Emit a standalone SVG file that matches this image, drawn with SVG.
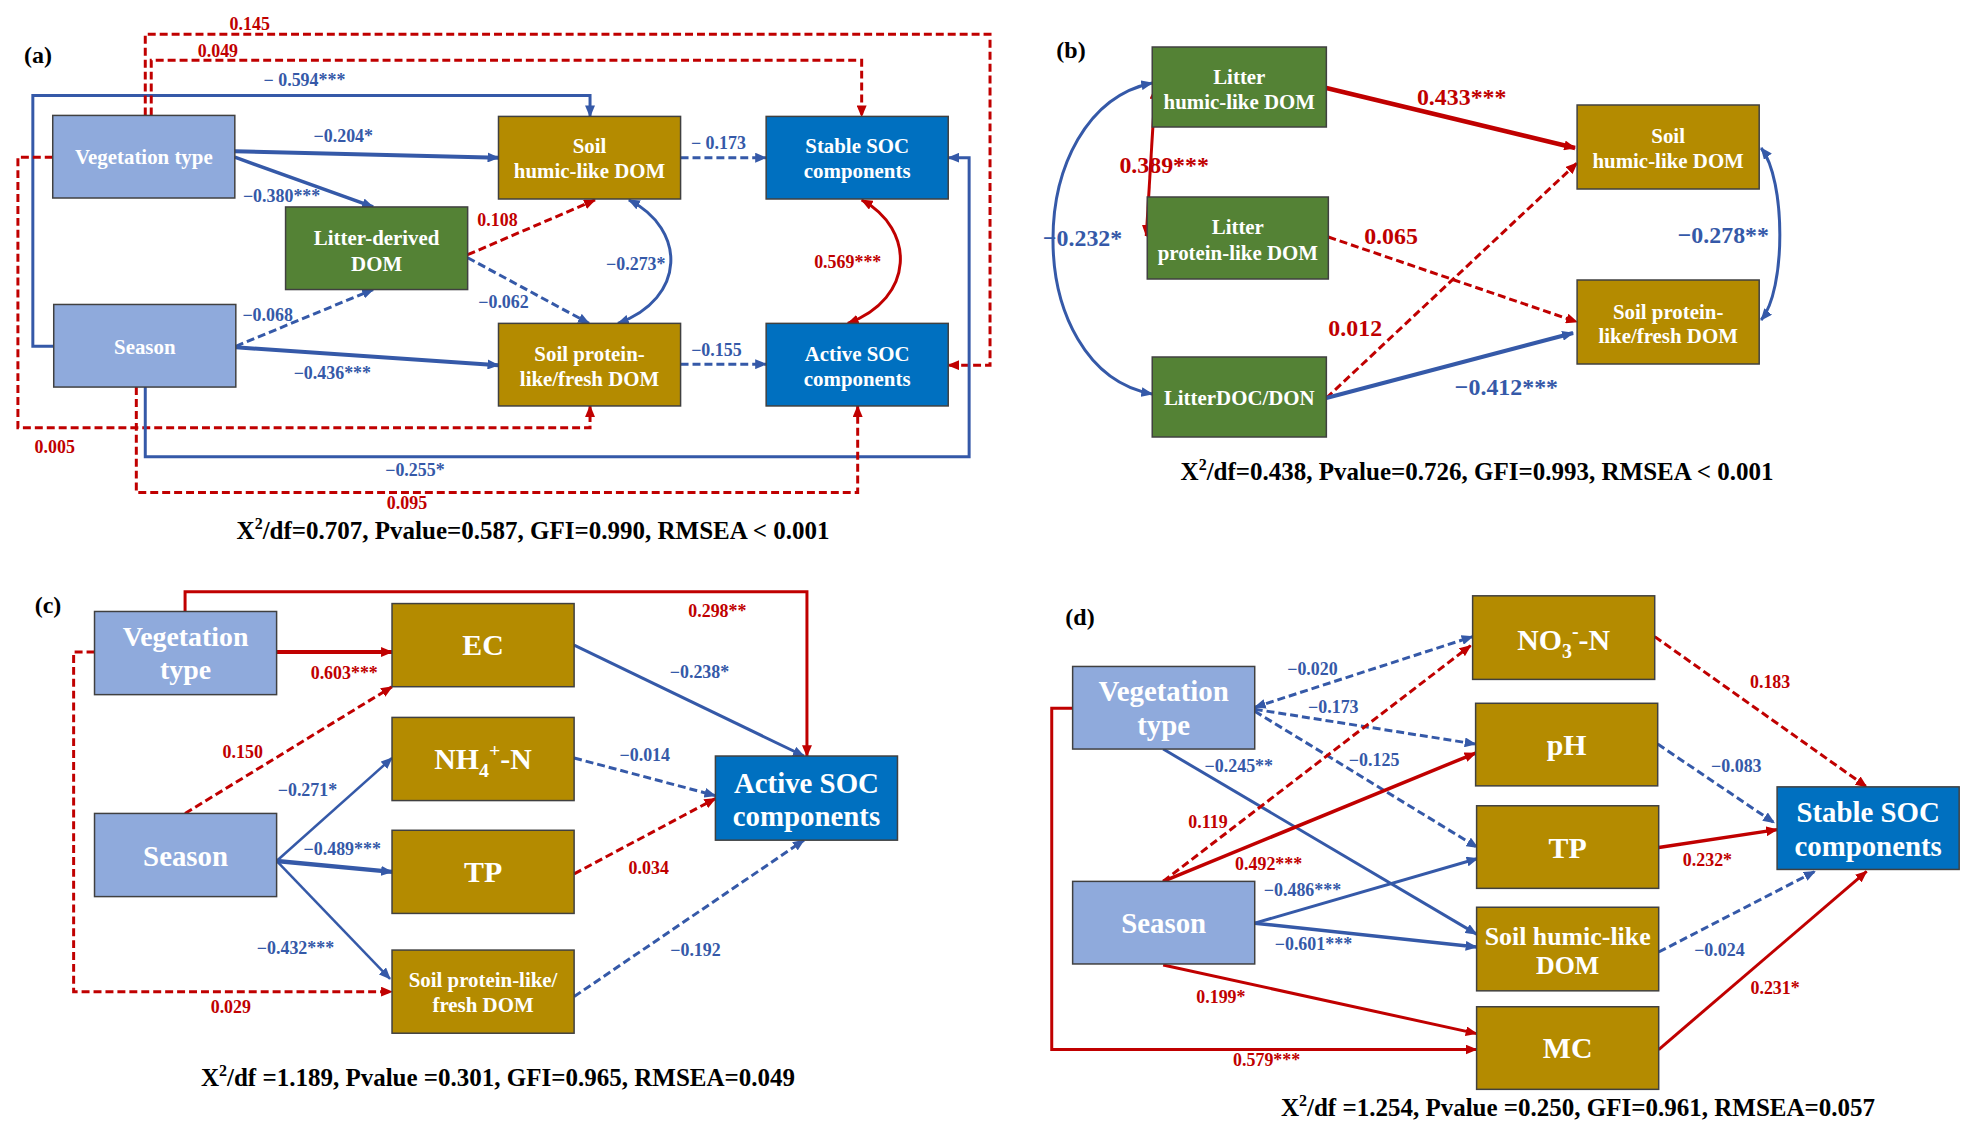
<svg xmlns="http://www.w3.org/2000/svg" width="1975" height="1138" viewBox="0 0 1975 1138">
<style>
.bx{stroke:#404040;stroke-width:1.5}
.lb{fill:#8FAADC}.gd{fill:#B48B00}.gr{fill:#548235}.db{fill:#0070C0}
.nt{font-family:"Liberation Serif","Times New Roman",serif;font-weight:bold;fill:#fff;text-anchor:middle}
.b{stroke:#3559A8;fill:none;stroke-width:3;marker-end:url(#ab)}
.r{stroke:#C00000;fill:none;stroke-width:3;marker-end:url(#ar)}
.d{stroke-dasharray:8 4}
.lab{font-family:"Liberation Serif","Times New Roman",serif;font-weight:bold;text-anchor:middle;font-size:18px}
.lB{fill:#3559A8}.lR{fill:#C00000}
.cap{font-family:"Liberation Serif","Times New Roman",serif;font-weight:bold;text-anchor:middle;font-size:25px;fill:#000}
.pl{font-family:"Liberation Serif","Times New Roman",serif;font-weight:bold;font-size:24px;fill:#000;text-anchor:middle}
</style>
<defs>
<marker id="ab" viewBox="0 0 12 10" refX="11" refY="5" markerWidth="12" markerHeight="10" markerUnits="userSpaceOnUse" orient="auto-start-reverse"><path d="M0,0 L12,5 L0,10 Z" fill="#3559A8"/></marker>
<marker id="ar" viewBox="0 0 12 10" refX="11" refY="5" markerWidth="12" markerHeight="10" markerUnits="userSpaceOnUse" orient="auto-start-reverse"><path d="M0,0 L12,5 L0,10 Z" fill="#C00000"/></marker>
</defs>
<rect width="1975" height="1138" fill="#fff"/>

<!-- panel labels -->
<text class="pl" x="38" y="63">(a)</text>
<text class="pl" x="1071" y="58">(b)</text>
<text class="pl" x="48" y="613">(c)</text>
<text class="pl" x="1080" y="625">(d)</text>

<!-- ============ connectors ============ -->
<g id="connectors">
<g id="conn-a" transform="matrix(0.995,0,0,0.995,0,0)">
<g><path class="b" style="stroke-width:4" d="M236,152 L501,158.5"/><text class="lab lB" x="345" y="143">−0.204*</text></g>
<g><path class="b" style="stroke-width:3.5" d="M236,158 L375,208"/><text class="lab lB" x="283" y="203">−0.380***</text></g>
<g><path class="b d" d="M237,348 L375,291"/><text class="lab lB" x="269" y="323">−0.068</text></g>
<g><path class="b" style="stroke-width:4" d="M237,349 L501,367"/><text class="lab lB" x="334" y="381">−0.436***</text></g>
<g><path class="r d" d="M470,256 L598,201"/><text class="lab lR" x="500" y="227">0.108</text></g>
<g><path class="b d" d="M470,259 L592,325"/><text class="lab lB" x="506" y="310">−0.062</text></g>
<g><path class="b" style="marker-start:url(#ab)" d="M632,201 C690,230 690,300 621,325"/><text class="lab lB" x="639" y="271">−0.273*</text></g>
<g><path class="b d" d="M684,158.5 L770,158.5"/><text class="lab lB" x="722" y="150">− 0.173</text></g>
<g><path class="b d" d="M684,366 L770,366"/><text class="lab lB" x="720" y="358">−0.155</text></g>
<g><path class="r" style="marker-start:url(#ar)" d="M866,201 C920,230 920,300 852,325"/><text class="lab lR" x="852" y="269">0.569***</text></g>
<g><path class="b" d="M54,348 L33,348 L33,96 L593,96 L593,117"/><text class="lab lB" x="306" y="86">− 0.594***</text></g>
<g><path class="r d" d="M146,116 L146,34.5 L995,34.5 L995,367 L953,367"/><text class="lab lR" x="251" y="30">0.145</text></g>
<g><path class="r d" d="M152,116 L152,60.5 L866,60.5 L866,117"/><text class="lab lR" x="219" y="57">0.049</text></g>
<g><path class="r d" d="M53,158 L18,158 L18,430 L593,430 L593,408"/><text class="lab lR" x="55" y="455">0.005</text></g>
<g><path class="b" d="M146,389 L146,459 L974,459 L974,158.5 L953,158.5"/><text class="lab lB" x="417" y="478">−0.255*</text></g>
<g><path class="r d" d="M137,389 L137,495 L862,495 L862,408"/><text class="lab lR" x="409" y="512">0.095</text></g>
</g>

<g id="conn-b" transform="matrix(0.995,0,0,1,5,0)">
<g><path class="r" style="stroke-width:4.5" d="M1328,88 L1578,148"/><text class="lab lR" style="font-size:24px" x="1464" y="105">0.433***</text></g>
<g><path class="r d" d="M1330,237 L1580,322"/><text class="lab lR" style="font-size:24px" x="1393" y="244">0.065</text></g>
<g><path class="r d" d="M1328,398 L1580,163"/><text class="lab lR" style="font-size:24px" x="1357" y="336">0.012</text></g>
<g><path class="b" style="stroke-width:4" d="M1328,398 L1576,333"/><text class="lab lB" style="font-size:24px" x="1509" y="395">−0.412***</text></g>
<g><path class="r" style="marker-start:url(#ar)" d="M1156,88 L1147,236"/><text class="lab lR" style="font-size:24px" x="1165" y="173">0.389***</text></g>
<g><path class="b" style="marker-start:url(#ab)" d="M1153,83 C1020,110 1020,370 1153,394"/><text class="lab lB" style="font-size:24px" x="1083" y="246">−0.232*</text></g>
<g><path class="b" style="marker-start:url(#ab)" d="M1765,148 C1790,180 1790,290 1765,320"/><text class="lab lB" style="font-size:24px" x="1727" y="243">−0.278**</text></g>
</g>

<g id="conn-c" transform="matrix(0.995,0,0,0.99,0,5.6)">
<g><path class="r" style="stroke-width:4" d="M278,653 L394,653"/><text class="lab lR" x="346" y="680">0.603***</text></g>
<g><path class="r" d="M186,612 L186,592 L811,592 L811,758"/><text class="lab lR" x="721" y="618">0.298**</text></g>
<g><path class="r d" d="M186,816 L394,688"/><text class="lab lR" x="244" y="760">0.150</text></g>
<g><path class="b" style="stroke-width:2.5" d="M278,864 L394,760"/><text class="lab lB" x="309" y="798">−0.271*</text></g>
<g><path class="b" style="stroke-width:4.5" d="M278,864 L394,875"/><text class="lab lB" x="344" y="858">−0.489***</text></g>
<g><path class="b" style="stroke-width:2.5" d="M278,864 L392,983"/><text class="lab lB" x="297" y="958">−0.432***</text></g>
<g><path class="r d" d="M95,653 L74,653 L74,996 L394,996"/><text class="lab lR" x="232" y="1018">0.029</text></g>
<g><path class="b" d="M577,646 L808,758"/><text class="lab lB" x="703" y="679">−0.238*</text></g>
<g><path class="b d" d="M577,760 L719,798"/><text class="lab lB" x="648" y="763">−0.014</text></g>
<g><path class="r d" d="M577,877 L719,801"/><text class="lab lR" x="652" y="877">0.034</text></g>
<g><path class="b d" d="M577,1001 L808,843"/><text class="lab lB" x="699" y="960">−0.192</text></g>
</g>

<g id="conn-d" transform="matrix(0.995,0,0,0.995,5,2.8)">
<g><path class="b d" style="marker-start:url(#ab)" d="M1256,708 L1475,637"/><text class="lab lB" x="1314" y="676">−0.020</text></g>
<g><path class="b d" d="M1256,710 L1478,745"/><text class="lab lB" x="1335" y="714">−0.173</text></g>
<g><path class="b d" d="M1256,712 L1480,849"/><text class="lab lB" x="1376" y="767">−0.125</text></g>
<g><path class="b" d="M1164,750 L1479,936"/><text class="lab lB" x="1240" y="773">−0.245**</text></g>
<g><path class="r d" d="M1164,883 L1473,646"/><text class="lab lR" x="1209" y="829">0.119</text></g>
<g><path class="r" style="stroke-width:3.5" d="M1164,883 L1478,754"/><text class="lab lR" x="1270" y="872">0.492***</text></g>
<g><path class="b" d="M1256,925 L1480,860"/><text class="lab lB" x="1304" y="898">−0.486***</text></g>
<g><path class="b" style="stroke-width:3.5" d="M1256,925 L1479,949"/><text class="lab lB" x="1315" y="952">−0.601***</text></g>
<g><path class="r" d="M1164,967 L1479,1036"/><text class="lab lR" x="1222" y="1005">0.199*</text></g>
<g><path class="r" d="M1073,709 L1052,709 L1052,1052 L1479,1052"/><text class="lab lR" x="1268" y="1069">0.579***</text></g>
<g><path class="r d" d="M1658,637 L1871,788"/><text class="lab lR" x="1774" y="689">0.183</text></g>
<g><path class="b d" d="M1661,745 L1778,824"/><text class="lab lB" x="1740" y="773">−0.083</text></g>
<g><path class="r" style="stroke-width:3.5" d="M1662,849 L1781,831"/><text class="lab lR" x="1711" y="868">0.232*</text></g>
<g><path class="b d" d="M1662,954 L1819,873"/><text class="lab lB" x="1723" y="958">−0.024</text></g>
<g><path class="r" d="M1662,1052 L1871,873"/><text class="lab lR" x="1779" y="996">0.231*</text></g>
</g>
</g>

<!-- ============ nodes ============ -->
<g id="nodes-a" transform="matrix(0.995,0,0,0.995,0,0)">
<g id="a-veg"><rect class="bx lb" x="53" y="116" width="183" height="83"/><text class="nt" style="font-size:21px" x="144.5" y="165">Vegetation type</text></g>
<g id="a-season"><rect class="bx lb" x="54" y="306" width="183" height="83"/><text class="nt" style="font-size:21px" x="145.5" y="356">Season</text></g>
<g id="a-litter"><rect class="bx gr" x="287" y="208" width="183" height="83"/><text class="nt" style="font-size:21px" x="378.5" y="246">Litter-derived</text><text class="nt" style="font-size:21px" x="378.5" y="272">DOM</text></g>
<g id="a-soilhumic"><rect class="bx gd" x="501" y="117" width="183" height="83"/><text class="nt" style="font-size:21px" x="592.5" y="154">Soil</text><text class="nt" style="font-size:21px" x="592.5" y="179">humic-like DOM</text></g>
<g id="a-soilprotein"><rect class="bx gd" x="501" y="325" width="183" height="83"/><text class="nt" style="font-size:21px" x="592.5" y="363">Soil protein-</text><text class="nt" style="font-size:21px" x="592.5" y="388">like/fresh DOM</text></g>
<g id="a-stable"><rect class="bx db" x="770" y="117" width="183" height="83"/><text class="nt" style="font-size:21px" x="861.5" y="154">Stable SOC</text><text class="nt" style="font-size:21px" x="861.5" y="179">components</text></g>
<g id="a-active"><rect class="bx db" x="770" y="325" width="183" height="83"/><text class="nt" style="font-size:21px" x="861.5" y="363">Active SOC</text><text class="nt" style="font-size:21px" x="861.5" y="388">components</text></g>
</g>

<g id="nodes-b" transform="matrix(0.995,0,0,1,5,0)">
<g id="b-litterhumic"><rect class="bx gr" x="1153" y="47" width="175" height="80"/><text class="nt" style="font-size:21px" x="1240.5" y="84">Litter</text><text class="nt" style="font-size:21px" x="1240.5" y="109">humic-like DOM</text></g>
<g id="b-litterprotein"><rect class="bx gr" x="1148" y="197" width="182" height="82"/><text class="nt" style="font-size:21px" x="1239" y="234">Litter</text><text class="nt" style="font-size:21px" x="1239" y="260">protein-like DOM</text></g>
<g id="b-litterdocdon"><rect class="bx gr" x="1153" y="357" width="175" height="80"/><text class="nt" style="font-size:21px" x="1240.5" y="405">LitterDOC/DON</text></g>
<g id="b-soilhumic"><rect class="bx gd" x="1580" y="105" width="183" height="84"/><text class="nt" style="font-size:21px" x="1671.5" y="143">Soil</text><text class="nt" style="font-size:21px" x="1671.5" y="168">humic-like DOM</text></g>
<g id="b-soilprotein"><rect class="bx gd" x="1580" y="280" width="183" height="84"/><text class="nt" style="font-size:21px" x="1671.5" y="319">Soil protein-</text><text class="nt" style="font-size:21px" x="1671.5" y="343">like/fresh DOM</text></g>
</g>

<g id="nodes-c" transform="matrix(0.995,0,0,0.99,0,5.6)">
<g id="c-veg"><rect class="bx lb" x="95" y="612" width="183" height="84"/><text class="nt" style="font-size:28px" x="186.5" y="647">Vegetation</text><text class="nt" style="font-size:28px" x="186.5" y="680">type</text></g>
<g id="c-ec"><rect class="bx gd" x="394" y="604" width="183" height="84"/><text class="nt" style="font-size:30px" x="485.5" y="656">EC</text></g>
<g id="c-nh4"><rect class="bx gd" x="394" y="719" width="183" height="84"/><text class="nt" style="font-size:30px" x="485.5" y="771">NH<tspan font-size="20" dy="8">4</tspan><tspan font-size="20" dy="-20">+</tspan><tspan dy="12">-N</tspan></text></g>
<g id="c-tp"><rect class="bx gd" x="394" y="833" width="183" height="84"/><text class="nt" style="font-size:30px" x="485.5" y="885">TP</text></g>
<g id="c-soilprotein"><rect class="bx gd" x="394" y="954" width="183" height="84"/><text class="nt" style="font-size:21px" x="485.5" y="991">Soil protein-like/</text><text class="nt" style="font-size:21px" x="485.5" y="1017">fresh DOM</text></g>
<g id="c-season"><rect class="bx lb" x="95" y="816" width="183" height="84"/><text class="nt" style="font-size:29px" x="186.5" y="869">Season</text></g>
<g id="c-active"><rect class="bx db" x="719" y="758" width="183" height="85"/><text class="nt" style="font-size:29px" x="810.5" y="795">Active SOC</text><text class="nt" style="font-size:29px" x="810.5" y="829">components</text></g>
</g>

<g id="nodes-d" transform="matrix(0.995,0,0,0.995,5,2.8)">
<g id="d-veg"><rect class="bx lb" x="1073" y="667" width="183" height="83"/><text class="nt" style="font-size:29px" x="1164.5" y="702">Vegetation</text><text class="nt" style="font-size:29px" x="1164.5" y="736">type</text></g>
<g id="d-season"><rect class="bx lb" x="1073" y="883" width="183" height="83"/><text class="nt" style="font-size:29px" x="1164.5" y="935">Season</text></g>
<g id="d-no3"><rect class="bx gd" x="1475" y="596" width="183" height="84"/><text class="nt" style="font-size:30px" x="1566.5" y="650">NO<tspan font-size="20" dy="8">3</tspan><tspan font-size="20" dy="-20">-</tspan><tspan dy="12">-N</tspan></text></g>
<g id="d-ph"><rect class="bx gd" x="1478" y="704" width="183" height="83"/><text class="nt" style="font-size:30px" x="1569.5" y="756">pH</text></g>
<g id="d-tp"><rect class="bx gd" x="1479" y="807" width="183" height="83"/><text class="nt" style="font-size:30px" x="1570.5" y="859">TP</text></g>
<g id="d-soilhumic"><rect class="bx gd" x="1479" y="909" width="183" height="84"/><text class="nt" style="font-size:26px" x="1570.5" y="947">Soil humic-like</text><text class="nt" style="font-size:26px" x="1570.5" y="976">DOM</text></g>
<g id="d-mc"><rect class="bx gd" x="1479" y="1009" width="183" height="83"/><text class="nt" style="font-size:30px" x="1570.5" y="1061">MC</text></g>
<g id="d-stable"><rect class="bx db" x="1781" y="788" width="183" height="83"/><text class="nt" style="font-size:29px" x="1872.5" y="823">Stable SOC</text><text class="nt" style="font-size:29px" x="1872.5" y="857">components</text></g>
</g>

<!-- captions -->
<text class="cap" x="533" y="539">X<tspan font-size="16" dy="-10">2</tspan><tspan dy="10">/df=0.707, Pvalue=0.587, GFI=0.990, RMSEA &lt; 0.001</tspan></text>
<text class="cap" x="1477" y="480">X<tspan font-size="16" dy="-10">2</tspan><tspan dy="10">/df=0.438, Pvalue=0.726, GFI=0.993, RMSEA &lt; 0.001</tspan></text>
<text class="cap" x="498" y="1086">X<tspan font-size="16" dy="-10">2</tspan><tspan dy="10">/df =1.189, Pvalue =0.301, GFI=0.965, RMSEA=0.049</tspan></text>
<text class="cap" x="1578" y="1116">X<tspan font-size="16" dy="-10">2</tspan><tspan dy="10">/df =1.254, Pvalue =0.250, GFI=0.961, RMSEA=0.057</tspan></text>
</svg>
